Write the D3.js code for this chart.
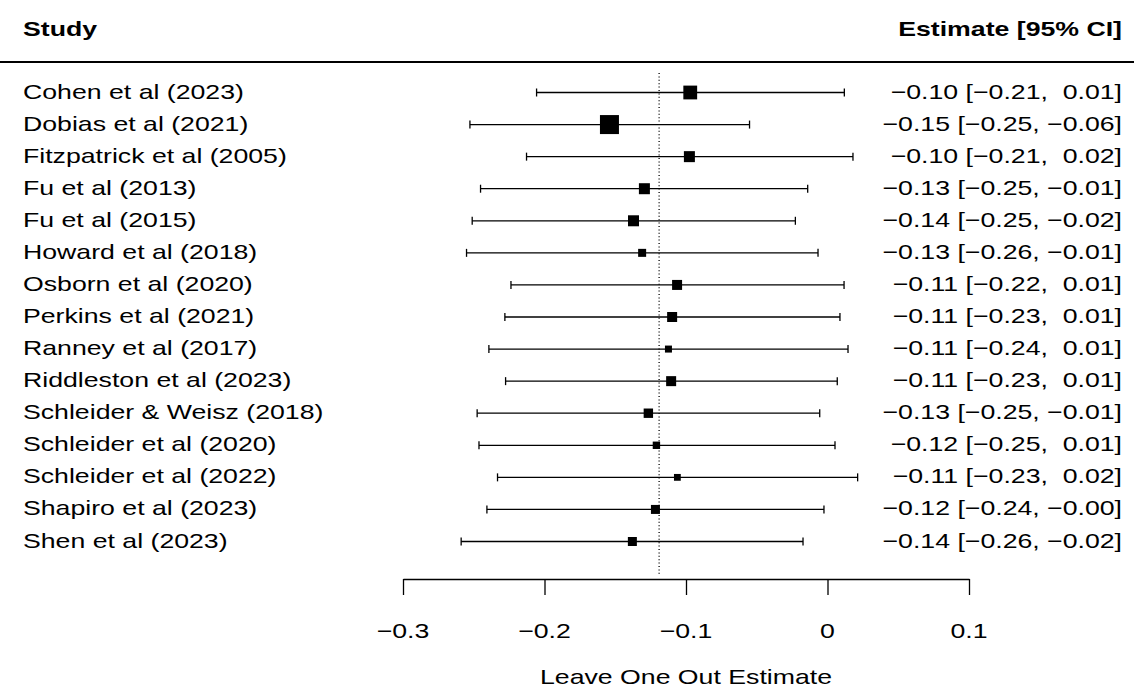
<!DOCTYPE html>
<html>
<head>
<meta charset="utf-8">
<script src="https://cdn.jsdelivr.net/npm/d3@7"></script>
<style>
  html, body { margin: 0; padding: 0; background: #fff; }
  svg { display: block; }
  text { font-family: "Liberation Sans", Arial, Helvetica, sans-serif; fill: #000; white-space: pre; }
</style>
</head>
<body>
<svg id="chart" width="1134" height="689"></svg>
<script>
// leave-one-out results, one row per omitted study
var studies = ["Cohen et al (2023)", "Dobias et al (2021)", "Fitzpatrick et al (2005)", "Fu et al (2013)",
  "Fu et al (2015)", "Howard et al (2018)", "Osborn et al (2020)", "Perkins et al (2021)", "Ranney et al (2017)",
  "Riddleston et al (2023)", "Schleider & Weisz (2018)", "Schleider et al (2020)", "Schleider et al (2022)",
  "Shapiro et al (2023)", "Shen et al (2023)"];
var estimate = [-0.097, -0.1541, -0.0976, -0.1294, -0.1371, -0.1310, -0.1063, -0.1098, -0.1124, -0.1105, -0.1266, -0.1209, -0.1061, -0.1216, -0.1379];
var ciLower  = [-0.2056, -0.2527, -0.2127, -0.2452, -0.2511, -0.2551, -0.2237, -0.2280, -0.2393, -0.2275, -0.2476, -0.2463, -0.2332, -0.2407, -0.2589];
var ciUpper  = [0.0119, -0.0551, 0.0180, -0.0140, -0.0227, -0.0067, 0.0117, 0.0088, 0.0145, 0.0069, -0.0055, 0.0053, 0.0213, -0.0025, -0.0173];
var weights  = [6.9, 9.5, 5.5, 5.5, 5.5, 4.0, 5.0, 5.0, 3.5, 5.0, 4.7, 3.7, 3.4, 4.5, 4.5];
var overall = -0.119;
var xTicks = [-0.3, -0.2, -0.1, 0, 0.1];

var svg = d3.select("#chart");
var fontSize = 21;
var stretch = 1.27; // text in the picture is wider than tall

var x = d3.scaleLinear().domain([-0.3, 0.1]).range([403, 969]);
var y = d3.scaleLinear().domain([0, studies.length - 1]).range([92.5, 541.5]);
var size = d3.scaleLinear().domain([0, d3.max(weights)]).range([0, 19]);

var data = studies.map(function(s, i) {
  return { study: s, est: estimate[i], lo: ciLower[i], hi: ciUpper[i], w: weights[i], i: i };
});

function fmt(v, width) {
  var s = v.toFixed(2).replace("-", "\u2212");
  while (s.length < width) s = " " + s;
  return s;
}

function label(g, txt, px, py, anchor, bold) {
  return g.append("text")
    .attr("transform", "translate(" + px + "," + py + ") scale(" + stretch + ",1)")
    .attr("text-anchor", anchor)
    .attr("font-size", fontSize)
    .attr("font-weight", bold ? "bold" : "normal")
    .attr("xml:space", "preserve")
    .text(txt);
}

// headers
label(svg, "Study", 23, 35.5, "start", true);
label(svg, "Estimate [95% CI]", 1122, 35.5, "end", true);
svg.append("line")
  .attr("x1", 0).attr("x2", 1134).attr("y1", 62).attr("y2", 62)
  .attr("stroke", "#000").attr("stroke-width", 1.8);

// reference line at the pooled estimate
svg.append("line")
  .attr("x1", x(overall)).attr("x2", x(overall))
  .attr("y1", 73).attr("y2", 574)
  .attr("stroke", "#000").attr("stroke-width", 1.3)
  .attr("stroke-dasharray", "1,2.4");

var rows = svg.append("g").selectAll("g").data(data).enter().append("g");

rows.append("line")
  .attr("x1", function(d) { return x(d.lo); })
  .attr("x2", function(d) { return x(d.hi); })
  .attr("y1", function(d) { return y(d.i); })
  .attr("y2", function(d) { return y(d.i); })
  .attr("stroke", "#000").attr("stroke-width", 1.3);

["lo", "hi"].forEach(function(k) {
  rows.append("line")
    .attr("x1", function(d) { return x(d[k]); })
    .attr("x2", function(d) { return x(d[k]); })
    .attr("y1", function(d) { return y(d.i) - 4; })
    .attr("y2", function(d) { return y(d.i) + 4; })
    .attr("stroke", "#000").attr("stroke-width", 1.3);
});

rows.append("rect")
  .attr("x", function(d) { return x(d.est) - size(d.w) / 2; })
  .attr("y", function(d) { return y(d.i) - size(d.w) / 2; })
  .attr("width", function(d) { return size(d.w); })
  .attr("height", function(d) { return size(d.w); })
  .attr("fill", "#000");

rows.each(function(d) {
  var g = d3.select(this);
  label(g, d.study, 23, y(d.i) + 6, "start", false);
  label(g, fmt(d.est, 5) + " [" + fmt(d.lo, 5) + ", " + fmt(d.hi, 5) + "]", 1122, y(d.i) + 6, "end", false);
});

// x axis
var axis = svg.append("g").attr("transform", "translate(0,579)");
axis.call(d3.axisBottom(x).tickValues(xTicks).tickSize(16).tickSizeOuter(0).tickFormat(function() { return ""; }));
axis.select(".domain").attr("stroke-width", 1.3);
axis.selectAll(".tick line").attr("stroke-width", 1.3);
axis.selectAll(".tick text").remove();
xTicks.forEach(function(t) {
  label(svg, t === 0 ? "0" : String(t).replace("-", "\u2212"), x(t), 638, "middle", false);
});
label(svg, "Leave One Out Estimate", (x(-0.3) + x(0.1)) / 2, 684, "middle", false);
</script>
</body>
</html>
